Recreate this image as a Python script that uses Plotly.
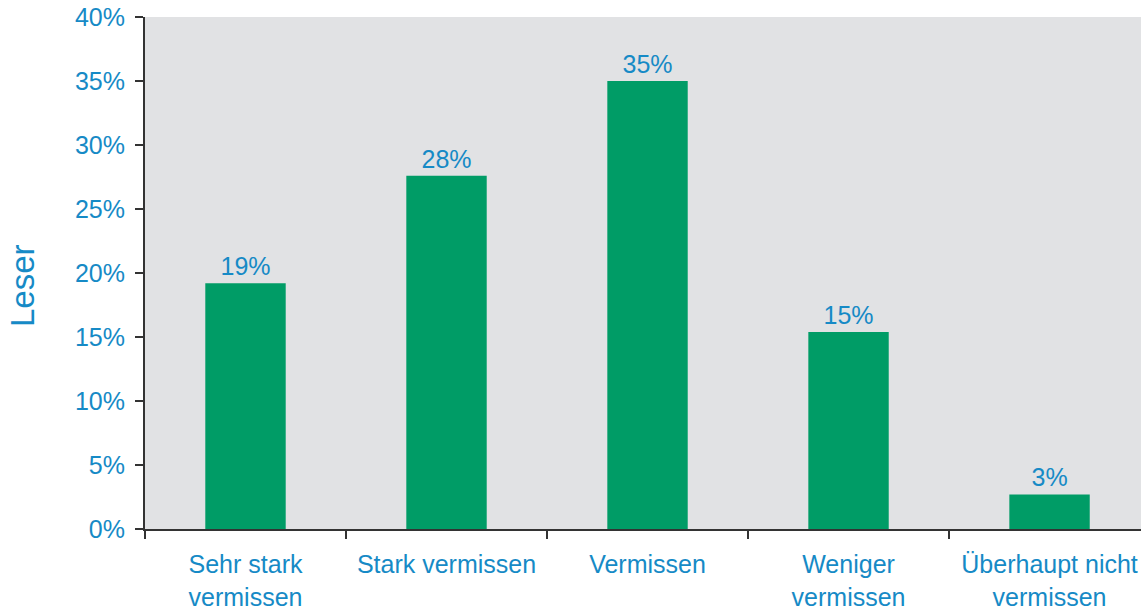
import plotly.graph_objects as go

categories = ["Sehr stark<br>vermissen", "Stark vermissen", "Vermissen", "Weniger<br>vermissen", "Überhaupt nicht<br>vermissen"]
values = [19.2, 27.6, 35.0, 15.4, 2.7]
labels = ["19%", "28%", "35%", "15%", "3%"]
y_ticks = [0, 5, 10, 15, 20, 25, 30, 35, 40]
y_ticktext = ["0%", "5%", "10%", "15%", "20%", "25%", "30%", "35%", "40%"]
y_title = "Leser"

BLUE = "#168ac6"
GREEN = "#009c66"
AXIS = "#333333"
FONT = "Liberation Sans, Arial, sans-serif"

fig = go.Figure(go.Bar(
    x=categories,
    y=values,
    text=labels,
    textposition="outside",
    textfont=dict(color=BLUE, size=25, family=FONT),
    marker=dict(color=GREEN, line=dict(width=0)),
    width=0.4,
    cliponaxis=False,
))

fig.update_layout(
    width=1141, height=607,
    margin=dict(l=145, r=0, t=17, b=78, autoexpand=False),
    paper_bgcolor="white",
    plot_bgcolor="#e1e2e4",
    showlegend=False,
    font=dict(family=FONT, color=BLUE, size=25),
    xaxis=dict(
        type="category",
        range=[-0.5, 4.455],
        tickson="boundaries",
        ticks="outside", ticklen=8, tickwidth=2, tickcolor=AXIS,
        showline=True, linecolor=AXIS, linewidth=2,
        showgrid=False, zeroline=False,
        tickfont=dict(size=25, color=BLUE, family=FONT),
        ticklabelstandoff=12,
        ticklabeloverflow="allow",
        automargin=False,
    ),
    yaxis=dict(
        range=[0, 40],
        tickmode="array", tickvals=y_ticks, ticktext=y_ticktext,
        ticks="outside", ticklen=8, tickwidth=2, tickcolor=AXIS,
        showline=True, linecolor=AXIS, linewidth=2,
        showgrid=False, zeroline=False,
        tickfont=dict(size=25, color=BLUE, family=FONT),
        ticklabelstandoff=5,
        ticklabeloverflow="allow",
        automargin=False,
    ),
    annotations=[dict(
        text=y_title, textangle=-90,
        xref="paper", yref="paper", x=0, y=0.5,
        xshift=-123, yshift=-13,
        xanchor="center", yanchor="middle",
        showarrow=False,
        font=dict(size=33, color=BLUE, family=FONT),
    )],
)

# remove the browser's default 8px body margin so the figure fills the window exactly
fig.write_html(
    "out.html",
    config={"displayModeBar": False},
    post_script="document.body.style.margin='0';document.body.style.overflow='hidden';",
)
